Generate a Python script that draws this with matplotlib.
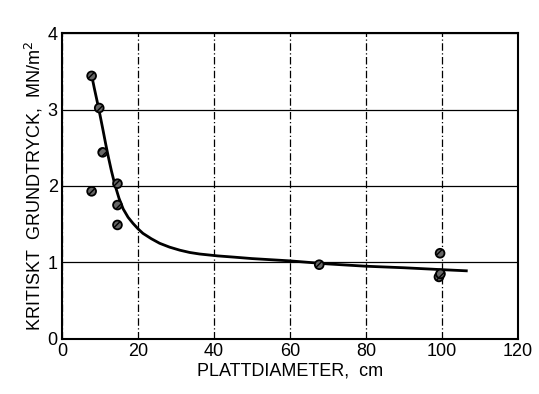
import matplotlib.pyplot as plt

plt.rcParams['font.family'] = ['Liberation Sans', 'DejaVu Sans']

# measured points
diam = [7.8, 9.8, 10.7, 14.6, 7.8, 14.6, 14.6, 67.7, 99.5, 99.2, 99.6]
pressure = [3.44, 3.02, 2.44, 2.03, 1.93, 1.75, 1.49, 0.97, 1.12, 0.81, 0.85]

# fitted curve
curve_x = [7.8, 8.5, 9.2, 10.0, 10.8, 11.5, 12.2, 13.0, 13.9, 15.0, 16.1, 17.4, 18.7, 20.0, 21.3,
           23.5, 25.7, 28.3, 31.0, 33.6, 36.2, 41.0, 45, 50, 55, 60, 70, 80, 90, 100, 106.4]
curve_y = [3.45, 3.28, 3.12, 2.93, 2.73, 2.55, 2.38, 2.20, 2.02, 1.84, 1.70, 1.59, 1.51, 1.44, 1.38,
           1.31, 1.25, 1.20, 1.16, 1.13, 1.11, 1.085, 1.07, 1.05, 1.035, 1.02, 0.98, 0.95, 0.93, 0.905, 0.89]

fig = plt.figure(figsize=(5.39, 3.94), dpi=100)
ax = fig.add_axes([0.115, 0.140, 0.846, 0.776])

ax.plot(curve_x, curve_y, color='black', lw=2.0, zorder=3, solid_joinstyle='round')
ax.scatter(diam, pressure, s=40, facecolor='#666666', edgecolor='black', lw=1.3, hatch='////', zorder=4)

ax.set_xlim(0, 120)
ax.set_ylim(0, 4)
ax.set_xticks([0, 20, 40, 60, 80, 100, 120])
ax.set_yticks([0, 1, 2, 3, 4])
ax.tick_params(length=0, labelsize=13, pad=3)

ax.grid(axis='y', color='black', lw=0.9, ls='-')
ax.grid(axis='x', color='black', lw=0.9, ls=(0, (6, 2, 1, 2)))
ax.set_axisbelow(True)
for s in ax.spines.values():
    s.set_linewidth(1.5)

ax.set_xlabel('PLATTDIAMETER,  cm', fontsize=13, labelpad=2)
ax.set_ylabel('KRITISKT  GRUNDTRYCK,  MN/m$^2$', fontsize=13, labelpad=2)

fig.savefig('out.png', dpi=100)
